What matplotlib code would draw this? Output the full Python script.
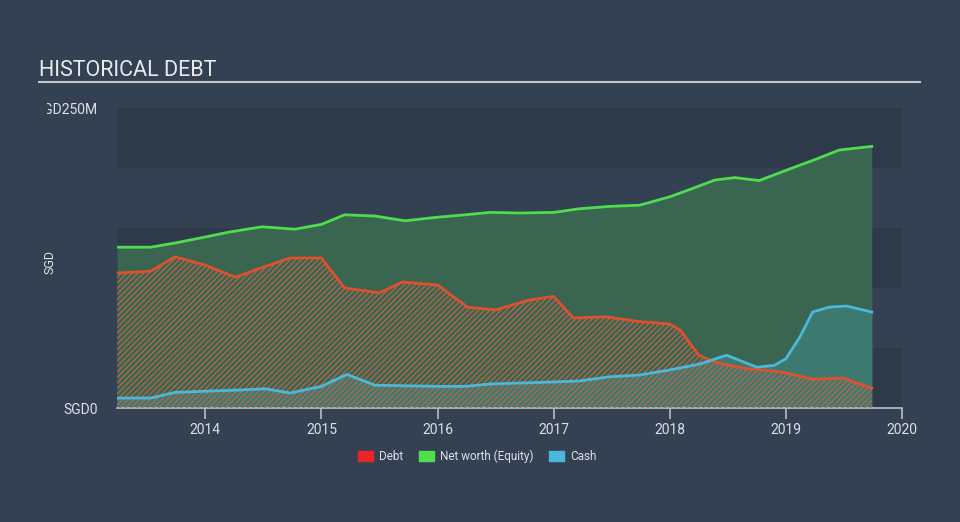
import matplotlib
matplotlib.use("Agg")
import matplotlib.pyplot as plt
from matplotlib.patches import Patch
from matplotlib.transforms import Bbox

# values in SGD millions, dates as decimal years
equity_dates = [2013.24, 2013.53, 2013.74, 2014.00, 2014.21, 2014.49, 2014.77, 2015.00,
                2015.20, 2015.46, 2015.72, 2016.00, 2016.24, 2016.45, 2016.71, 2017.00,
                2017.22, 2017.48, 2017.74, 2018.00, 2018.17, 2018.39, 2018.56, 2018.77,
                2019.00, 2019.25, 2019.46, 2019.74]
equity = [134, 134, 137.5, 142.5, 146.7, 151, 149, 153,
          161, 160, 156, 159, 161, 163, 162.5, 163,
          166, 168, 169, 176, 182, 190, 192, 189.5,
          198, 207, 215, 218]

debt_dates = [2013.24, 2013.53, 2013.74, 2014.00, 2014.26, 2014.49, 2014.73, 2015.00,
              2015.20, 2015.50, 2015.70, 2016.00, 2016.26, 2016.50, 2016.79, 2017.00,
              2017.17, 2017.45, 2017.74, 2018.00, 2018.09, 2018.25, 2018.39, 2018.65,
              2018.97, 2019.23, 2019.49, 2019.74]
debt = [112.5, 114, 126, 119, 109, 117, 125, 125,
        100, 96, 105, 102.5, 84, 81.7, 90, 93,
        75, 76, 72, 70, 65, 44, 38, 33,
        30, 24, 25, 16.5]

cash_dates = [2013.24, 2013.53, 2013.74, 2014.00, 2014.30, 2014.52, 2014.73, 2015.00,
              2015.22, 2015.46, 2016.00, 2016.24, 2016.45, 2017.00, 2017.22, 2017.48,
              2017.74, 2018.00, 2018.26, 2018.49, 2018.75, 2018.90, 2019.00, 2019.12,
              2019.23, 2019.37, 2019.52, 2019.74]
cash = [8.3, 8.3, 13, 14, 15, 16, 12.5, 18,
        28, 19, 18, 18, 20, 21.7, 22.5, 26,
        27.5, 31.7, 36.7, 44, 34, 35.5, 41, 59,
        80, 84, 85, 80]

years = [2014, 2015, 2016, 2017, 2018, 2019, 2020]

bg = "#344152"
band_dark = "#2e3a4a"
txt = "#dde1e6"

plt.rcParams["font.family"] = ["Roboto", "DejaVu Sans"]
plt.rcParams["hatch.linewidth"] = 0.9

fig = plt.figure(figsize=(9.6, 5.22), dpi=100, facecolor=bg)
ax = fig.add_axes([117 / 960, 1 - 408 / 522, 785 / 960, 300 / 522])
ax.set_facecolor(bg)

for lo in [0, 100, 200]:
    ax.axhspan(lo, lo + 50, color=band_dark, lw=0, zorder=0)

ax.fill_between(equity_dates, 0, equity, color="#3a6550", lw=0, zorder=1)
ax.fill_between(cash_dates, 0, cash, color="#3c7a70", lw=0, zorder=2)
ax.fill_between(debt_dates, 0, debt, facecolor="none", edgecolor="#b8674a",
                hatch="//////", lw=0, zorder=3)

ax.plot(equity_dates, equity, color="#4fdc4f", lw=2, zorder=5)
ax.plot(debt_dates, debt, color="#e0502e", lw=2, zorder=5)
ax.plot(cash_dates, cash, color="#4bb8dc", lw=2, zorder=6)

ax.set_xlim(2013.24, 2020.0)
ax.set_ylim(0, 250)
ax.set_xticks(years)
ax.set_xticklabels([str(y) for y in years])
ax.set_yticks([0, 250])
ax.set_yticklabels(["SGD0", "SGD250M"])

for s in ["top", "right", "left"]:
    ax.spines[s].set_visible(False)
ax.spines["bottom"].set_color("#b8c0c8")
ax.spines["bottom"].set_linewidth(1.2)
ax.tick_params(axis="x", colors="#b8c0c8", labelcolor=txt, labelsize=10, length=8, width=1.2, pad=3)
ax.tick_params(axis="y", length=0, labelcolor=txt, labelsize=10, pad=14)

# the top label gets cut on the left like the original
clip = Bbox.from_extents(47, 0, 960, 522)
for lab in ax.get_yticklabels():
    lab.set_clip_box(clip)
    lab.set_clip_on(True)

fig.text(50 / 960, 1 - 262 / 522, "SGD", rotation=90, color=txt, fontsize=9,
         ha="center", va="center")

fig.text(39 / 960, 1 - 70 / 522, "HISTORICAL DEBT", color="#e8ebee", fontsize=15.5,
         ha="left", va="center")
fig.add_artist(plt.Line2D([39 / 960, 920 / 960], [1 - 82 / 522, 1 - 82 / 522],
                          color="#c4c8cc", lw=1.5))

handles = [Patch(color="#e8262a", label="Debt"),
           Patch(color="#4fe04f", label="Net worth (Equity)"),
           Patch(color="#4ab8dc", label="Cash")]
leg = fig.legend(handles=handles, loc="center", bbox_to_anchor=(477 / 960, 1 - 456 / 522),
                 ncol=3, frameon=False, fontsize=8.5, handlelength=1.3, handleheight=0.9,
                 handletextpad=0.5, columnspacing=1.3)
for t in leg.get_texts():
    t.set_color(txt)

fig.savefig("out.png", dpi=100, facecolor=bg)
